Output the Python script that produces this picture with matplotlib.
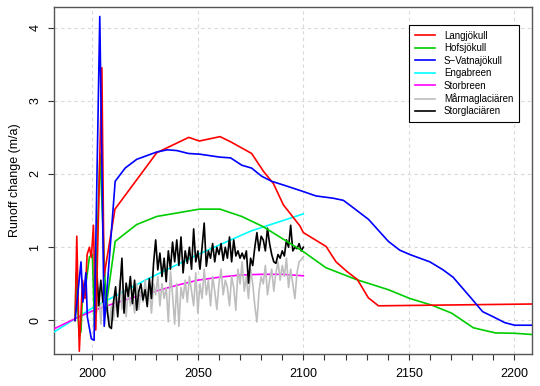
import matplotlib
matplotlib.use("Agg")
import matplotlib.pyplot as plt
import numpy as np

plt.rcParams['font.family'] = ['Liberation Sans', 'DejaVu Sans']

# ---- data ----
lang_years = [1991.8, 1992.6, 1993.8, 1995.3, 1996.5, 1997.5, 1998.6, 1999.5, 2000.5, 2001.6,
              2004.5, 2005.5, 2010.7, 2030.5, 2045.7, 2050.7, 2060.5, 2065.5, 2075.5, 2081.0,
              2085.8, 2090.5, 2098.4, 2100.0, 2110.8, 2115.5, 2120.6, 2125.6, 2130.8, 2135.6, 2210.0]
lang_vals = [0.00, 1.15, -0.42, 0.55, 0.30, 0.90, 1.00, 0.86, 1.30, -0.13,
             3.45, 0.60, 1.52, 2.29, 2.50, 2.45, 2.51, 2.44, 2.28, 2.04,
             1.87, 1.58, 1.29, 1.20, 1.01, 0.80, 0.67, 0.56, 0.31, 0.20, 0.225]

hofs_years = [1991.8, 1992.3, 1993.7, 1994.6, 1995.5, 1996.5, 1998.6, 2000.0, 2001.0, 2003.6,
              2006.5, 2010.8, 2021.0, 2030.5, 2050.7, 2060.5, 2070.8, 2081.0, 2100.0, 2110.7,
              2125.0, 2140.3, 2150.5, 2160.8, 2170.3, 2180.6, 2191.0, 2200.2, 2210.0]
hofs_vals = [0.00, 0.64, -0.22, -0.15, 0.50, 0.40, 0.87, 0.90, -0.08, 2.28,
             0.19, 1.08, 1.31, 1.42, 1.52, 1.52, 1.42, 1.28, 0.94, 0.72,
             0.56, 0.42, 0.30, 0.21, 0.10, -0.10, -0.17, -0.175, -0.195]

svat_years = [1991.8, 1994.6, 1995.5, 1996.9, 1997.6, 1999.5, 2000.8, 2003.5, 2005.6, 2010.8,
              2015.5, 2021.0, 2030.5, 2035.5, 2040.0, 2045.5, 2051.0, 2060.5, 2065.5, 2070.8,
              2075.5, 2080.2, 2085.0, 2090.5, 2100.0, 2106.0, 2114.0, 2119.0, 2125.0, 2130.9,
              2140.3, 2145.7, 2150.5, 2160.0, 2166.3, 2171.0, 2179.7, 2185.0, 2190.0, 2195.5,
              2200.2, 2210.0]
svat_vals = [0.00, 0.80, 0.25, 0.65, 0.05, -0.25, -0.27, 4.15, -0.08, 1.90,
             2.08, 2.20, 2.30, 2.33, 2.32, 2.28, 2.27, 2.23, 2.22, 2.12,
             2.08, 1.97, 1.90, 1.85, 1.76, 1.70, 1.67, 1.64, 1.51, 1.38,
             1.08, 0.96, 0.90, 0.80, 0.69, 0.59, 0.30, 0.12, 0.05, -0.03,
             -0.065, -0.065]

enga_years = [1980, 2000, 2025, 2050, 2075, 2100]
enga_vals = [-0.19, 0.17, 0.55, 0.90, 1.22, 1.455]

storb_years = [1980, 1990, 2000, 2010, 2020, 2030, 2040, 2050, 2060, 2070, 2080, 2090, 2100]
storb_vals = [-0.14, 0.00, 0.13, 0.23, 0.32, 0.40, 0.48, 0.55, 0.59, 0.62, 0.63, 0.63, 0.61]

annual_years = list(range(2001, 2101))
marma_vals = [0.55, 0.10, 0.45, -0.05, 0.35, 0.05, 0.30, -0.10, 0.20, 0.00,
              0.30, 0.10, 0.55, 0.15, 0.40, 0.05, 0.45, 0.20, 0.35, 0.10,
              0.50, 0.15, 0.40, 0.25, 0.55, 0.30, 0.45, 0.10, 0.50, 0.35,
              0.60, 0.20, 0.50, 0.30, 0.45, -0.02, 0.67, 0.35, -0.05, 0.50,
              -0.08, 0.45, 0.30, 0.55, 0.25, 0.60, 0.40, 0.20, 0.65, 0.10,
              0.50, 0.30, 0.70, 0.35, 0.55, 0.20, 0.60, 0.40, 0.15, 0.50,
              0.70, 0.35, 0.55, 0.45, 0.20, 0.60, 0.45, 0.14, 0.70, 0.50,
              0.80, 0.40, 0.60, 0.30, 0.70, 0.50, 0.20, -0.02, 0.40, 0.60,
              0.50, 0.75, 0.35, 0.55, 0.70, 0.40, 0.65, 0.80, 0.55, 0.75,
              0.60, 0.85, 0.45, 0.70, 0.50, 0.30, 0.65, 0.80, 0.83, 0.87]
storg_vals = [0.30, 0.73, 0.20, 0.55, 0.25, 0.50, 0.14, -0.08, -0.11, 0.25,
              0.46, 0.05, 0.42, 0.85, 0.10, 0.51, 0.33, 0.60, 0.23, 0.55,
              0.14, 0.40, 0.50, 0.28, 0.42, 0.19, 0.57, 0.30, 0.78, 1.10,
              0.69, 0.92, 0.60, 0.85, 0.53, 0.95, 0.70, 1.07, 0.80, 1.10,
              0.75, 1.14, 0.65, 0.95, 0.78, 1.00, 0.70, 1.25, 0.80, 0.95,
              0.70, 1.00, 1.33, 0.74, 0.95, 0.85, 1.05, 0.80, 1.00, 0.90,
              1.05, 0.82, 1.00, 0.85, 1.14, 0.80, 1.10, 0.88, 0.95, 0.85,
              0.92, 0.84, 0.95, 0.51, 0.85, 0.75, 1.00, 1.20, 0.95, 1.15,
              1.10, 0.95, 1.26, 1.05, 0.90, 0.80, 0.78, 0.90, 0.85, 0.95,
              0.88, 1.10, 1.00, 1.30, 0.95, 1.00, 0.98, 1.05, 0.95, 1.00]

series_names = ['Langjökull', 'Hofsjökull', 'S\u2212Vatnajökull', 'Engabreen',
                'Storbreen', 'Mårmaglaciären', 'Storglaciären']
series_colors = ['#ff0000', '#00cd00', '#0000ff', '#00ffff', '#ff00ff', '#bebebe', '#000000']

x_major = [2000, 2050, 2100, 2150, 2200]
x_minor = list(range(1990, 2201, 10))
y_ticks = [0, 1, 2, 3, 4]

# ---- figure ----
fig = plt.figure(figsize=(5.40, 3.86), dpi=100)
ax = fig.add_axes([54/540, 1-354/386, (532-54)/540, (354-7)/386])

lw = 1.2
data = [(lang_years, lang_vals), (hofs_years, hofs_vals), (svat_years, svat_vals),
        (enga_years, enga_vals), (storb_years, storb_vals),
        (annual_years, marma_vals), (annual_years, storg_vals)]
order = [3, 4, 5, 6, 1, 0, 2]
handles = {}
for i in order:
    xs, ys = data[i]
    h, = ax.plot(xs, ys, color=series_colors[i], lw=lw, label=series_names[i], zorder=3)
    handles[i] = h

ax.set_xlim(1981.8, 2208.4)
ax.set_ylim(-0.458, 4.28)

for gx in x_major:
    ax.axvline(gx, color='#d9d9d9', lw=0.8, ls=(0, (3, 3)), zorder=1)
for gy in y_ticks:
    ax.axhline(gy, color='#d9d9d9', lw=0.8, ls=(0, (3, 3)), zorder=1)

ax.set_xticks(x_minor)
ax.set_xticklabels([str(v) if v in x_major else '' for v in x_minor])
ax.set_yticks(y_ticks)
ax.set_yticklabels([str(v) for v in y_ticks], rotation=90, va='center')
ax.tick_params(axis='both', direction='out', length=4, width=0.8, colors='#333333',
               labelsize=9, labelcolor='black')
ax.tick_params(axis='x', pad=6)
ax.tick_params(axis='y', pad=5)
for s in ax.spines.values():
    s.set_color('#555555')
    s.set_linewidth(1.0)

ax.set_ylabel('Runoff change (m/a)', fontsize=9, labelpad=6)

leg = ax.legend([handles[i] for i in range(7)], series_names, loc='upper right',
                bbox_to_anchor=(0.973, 0.948), borderaxespad=0, fontsize=7,
                frameon=True, fancybox=False, edgecolor='black', framealpha=1,
                handlelength=2.1, handletextpad=0.9, labelspacing=0.25,
                borderpad=0.6)
leg.get_frame().set_linewidth(0.8)

fig.savefig('out.png', dpi=100)
